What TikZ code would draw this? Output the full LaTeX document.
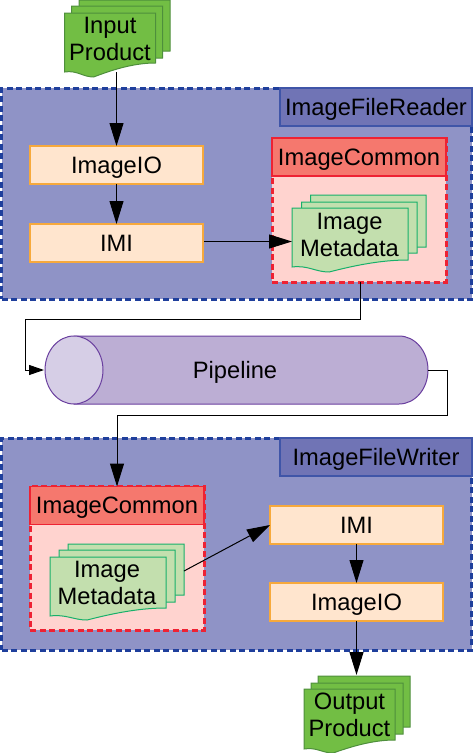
\documentclass[tikz,border=0pt]{standalone}
\usepackage{fontspec}
\setmainfont{Liberation Sans}
\usetikzlibrary{arrows.meta}
\definecolor{panelfill}{HTML}{8F93C6}
\definecolor{paneldash}{HTML}{1F3F9C}
\definecolor{tabfill}{HTML}{7074B5}
\definecolor{tabline}{HTML}{3F55A8}
\definecolor{redhead}{HTML}{F5786E}
\definecolor{redline}{HTML}{EE2233}
\definecolor{redbody}{HTML}{FFD3CF}
\definecolor{peach}{HTML}{FFE5CE}
\definecolor{peachline}{HTML}{F7A93C}
\definecolor{prodfill}{HTML}{72BE44}
\definecolor{prodline}{HTML}{4E8F3C}
\definecolor{metafill}{HTML}{C3DFAE}
\definecolor{metaline}{HTML}{18B06A}
\definecolor{pipefill}{HTML}{BCAED4}
\definecolor{pipeline}{HTML}{6A3F9F}
\definecolor{pipeend}{HTML}{D6CEE6}
\tikzset{
  x=1pt,y=-1pt,
  every node/.style={font=\fontsize{23.7}{27}\selectfont,inner sep=0pt,outer sep=0pt,text=black},
  oneline/.style={text height=17pt,text depth=1pt},
  panel/.style={fill=panelfill,draw=paneldash,line width=3pt,dash pattern=on 6pt off 3.5pt},
  tab/.style={oneline,fill=tabfill,draw=tabline,line width=1.2pt,minimum width=192pt,minimum height=38pt},
  commonbody/.style={fill=redbody,draw=redline,line width=3pt,dash pattern=on 6pt off 3.5pt},
  commonhead/.style={oneline,fill=redhead,draw=redline,line width=1.2pt,minimum width=174pt,minimum height=38pt},
  procbox/.style={oneline,fill=peach,draw=peachline,line width=1.2pt,minimum width=173pt,minimum height=38pt},
  prodsheet/.style={fill=prodfill,draw=prodline,line width=1pt},
  metasheet/.style={fill=metafill,draw=metaline,line width=1pt},
  link/.style={draw=black,line width=1pt},
  bigarrow/.style={link,-{Triangle[length=23pt,width=14pt]}},
  smallarrow/.style={link,-{Triangle[length=15pt,width=10pt]}}
}
% sheet: style, x, y, width, left depth, low depth, right depth
\newcommand{\sheet}[7]{%
  \path[#1] (#2,#3) -- ++(#4,0) -- ++(0,#7)
    .. controls +(-#4*0.22,0) and +(#4*0.24,-#6*0.6+#7*0.6) .. ({#2+#4*0.32},{#3+#6})
    .. controls +(-#4*0.12,0) and +(#4*0.14,-2) .. (#2,{#3+#5}) -- cycle;}
\begin{document}
\begin{tikzpicture}
\useasboundingbox (0,0) rectangle (473,753);
\clip (0,0) rectangle (473,753);
% reader panel
\node[panel,minimum width=470pt,minimum height=211pt] (reader) at (236.5,193.5) {};
\node[tab] (readertab) at (376,107) {ImageFileReader};
\node[procbox] (rio) at (116.5,165) {ImageIO};
\node[procbox] (rimi) at (116.5,243) {IMI};
\node[commonbody,minimum width=174pt,minimum height=144pt] (rcommon) at (359,210) {};
\node[commonhead] (rhead) at (359,157) {ImageCommon};
\sheet{metasheet}{310.5}{195}{115.5}{59}{60}{52}
\sheet{metasheet}{301.5}{202}{115.5}{59}{60}{51}
\sheet{metasheet}{292}{208}{116}{59}{64}{52}
\node[minimum width=116pt,minimum height=67pt] (rmeta) at (350,241.5) {};
\node[align=center] (rmetatext) at (349.5,235) {Image\\Metadata};
% writer panel
\node[panel,minimum width=470pt,minimum height=212pt] (writer) at (236.5,544) {};
\node[tab] (writertab) at (376,457) {ImageFileWriter};
\node[commonbody,minimum width=174pt,minimum height=144pt] (wcommon) at (117,558) {};
\node[commonhead] (whead) at (117,505.5) {ImageCommon};
\sheet{metasheet}{68}{544}{116}{59}{60}{51}
\sheet{metasheet}{59}{550}{116}{59}{60}{52}
\sheet{metasheet}{50}{557}{116}{59}{63}{51}
\node[minimum width=134pt,minimum height=54pt] (wmeta) at (117,571) {};
\node[align=center] (wmetatext) at (107,583) {Image\\Metadata};
\node[procbox] (wimi) at (356.5,525) {IMI};
\node[procbox] (wio) at (356.5,602) {ImageIO};
% input and output products
\sheet{prodsheet}{79}{0}{91}{55}{60}{51}
\sheet{prodsheet}{71.5}{6}{91}{59}{60}{52}
\sheet{prodsheet}{64.5}{13}{91}{59}{64}{50}
\node[align=center] (inp) at (110,38.5) {Input\\Product};
\sheet{prodsheet}{318}{676}{92}{55}{60}{51}
\sheet{prodsheet}{311}{683}{92}{59}{60}{51}
\sheet{prodsheet}{304}{689}{91}{60}{64}{51}
\node[align=center] (outp) at (349.5,715) {Output\\Product};
% pipeline
\path[fill=pipefill,draw=pipeline,line width=1pt] (74,336) -- (399,336)
  .. controls (415,336) and (428,351) .. (428,370)
  .. controls (428,389) and (415,404) .. (399,404) -- (74,404) -- cycle;
\draw[fill=pipeend,draw=pipeline,line width=1pt] (74,370) ellipse [x radius=29,y radius=34];
\node[minimum width=384pt,minimum height=68pt] (pipe) at (236,370) {};
\node[oneline] (pipetext) at (235,370) {Pipeline};
% connector ends
\coordinate (inpout) at (116.5,72);
\coordinate (outin) at (356.5,675);
\coordinate (rcout) at (360,282);
\coordinate (rimiout) at (204,241.5);
% connectors
\draw[bigarrow] (inpout) -- (rio.north);
\draw[bigarrow] (rio.south) -- (rimi.north);
\draw[bigarrow] (rimiout) -- (rmeta.west);
\draw[smallarrow] (rcout) -- (360,319) -- (25,319) -- (25,370) -- (pipe.west);
\draw[bigarrow] (pipe.east) -- (447,370) -- (447,415) -- (117,415) -- (whead.north);
\draw[bigarrow] (wmeta.east) -- (wimi.west);
\draw[bigarrow] (wimi.south) -- (wio.north);
\draw[bigarrow] (wio.south) -- (outin);
\end{tikzpicture}
\end{document}
